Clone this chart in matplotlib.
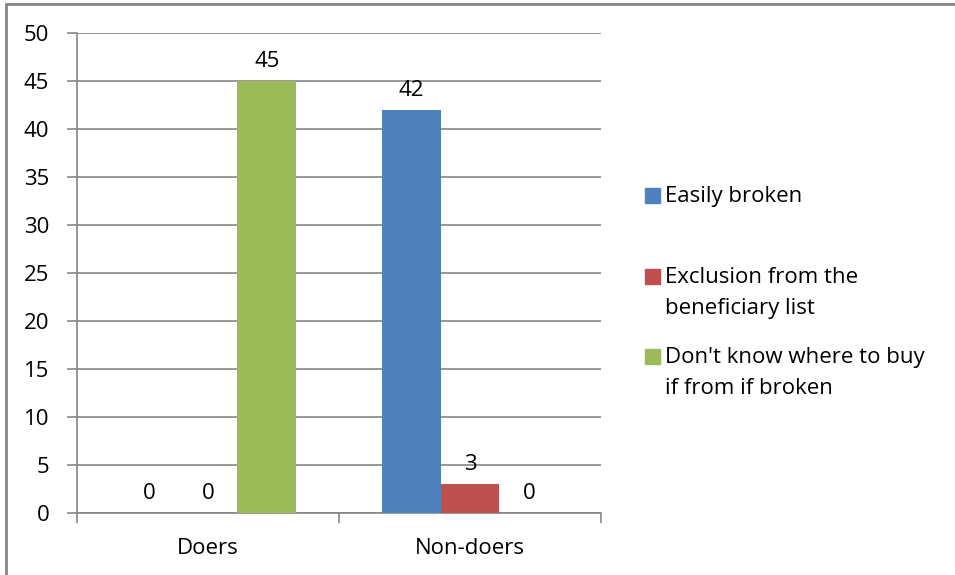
import numpy as np
import matplotlib.pyplot as plt
from matplotlib.patches import Rectangle

plt.rcParams['font.family'] = ['Open Sans', 'DejaVu Sans']

categories = ["Doers", "Non-doers"]
series = ["Easily broken", "Exclusion from the\nbeneficiary list",
          "Don't know where to buy\nif from if broken"]
easily_broken = [0, 42]
exclusion = [0, 3]
dont_know = [45, 0]
colors = ["#4f81bd", "#c0504d", "#9bbb59"]

W, H = 955, 575
FS = 16
fig = plt.figure(figsize=(W / 100, H / 100), dpi=100)
# plot area in pixel coords: x 77..601, y 33..513
ax = fig.add_axes([77 / W, 1 - 513 / H, (601 - 77) / W, (513 - 33) / H])

# outer chart border (only top/left visible in the reference)
fig.patches.append(Rectangle((6 / W, -0.1), 1.2, 1 - 4 / H + 0.1, transform=fig.transFigure,
                             fill=False, edgecolor="#868686", linewidth=2, zorder=0))

x = np.arange(len(categories))
width = 0.225
values = [easily_broken, exclusion, dont_know]
for i, (vals, lab, col) in enumerate(zip(values, series, colors)):
    pos = x + (i - 1) * width
    ax.bar(pos, vals, width, color=col, label=lab, zorder=3)
    for px, v in zip(pos, vals):
        ax.annotate(f"{v}", (px, v), xytext=(0, 14), textcoords="offset points",
                    ha="center", va="center", fontsize=FS)

ax.set_xlim(-0.5, 1.5)
ax.set_ylim(0, 50)
ax.set_yticks(range(0, 51, 5))
ax.yaxis.grid(True, color="#868686", linewidth=1.2, zorder=0)
ax.set_axisbelow(True)

ax.set_xticks([-0.5, 0.5, 1.5], minor=False)
ax.set_xticklabels([])
ax.set_xticks(x, minor=True)
ax.set_xticklabels(categories, minor=True)
ax.tick_params(axis="x", which="major", length=7, color="#868686", width=1.2, direction="out")
ax.tick_params(axis="x", which="minor", length=0, pad=18, labelsize=FS)
ax.tick_params(axis="y", length=7, color="#868686", width=1.2, labelsize=FS, pad=13)

for s in ["top", "right"]:
    ax.spines[s].set_visible(False)
for s in ["left", "bottom"]:
    ax.spines[s].set_color("#868686")
    ax.spines[s].set_linewidth(1.2)

# legend, Excel style: marker aligned with the first text line
leg_y = [195, 276, 356]
for lab, col, yy in zip(series, colors, leg_y):
    fig.patches.append(Rectangle((645 / W, 1 - (yy + 7.5) / H), 15 / W, 15 / H,
                                 transform=fig.transFigure, color=col))
    fig.text(665 / W, 1 - (yy - 9) / H, lab, ha="left", va="top", fontsize=FS,
             linespacing=1.6)

fig.savefig("out.png", dpi=100)
